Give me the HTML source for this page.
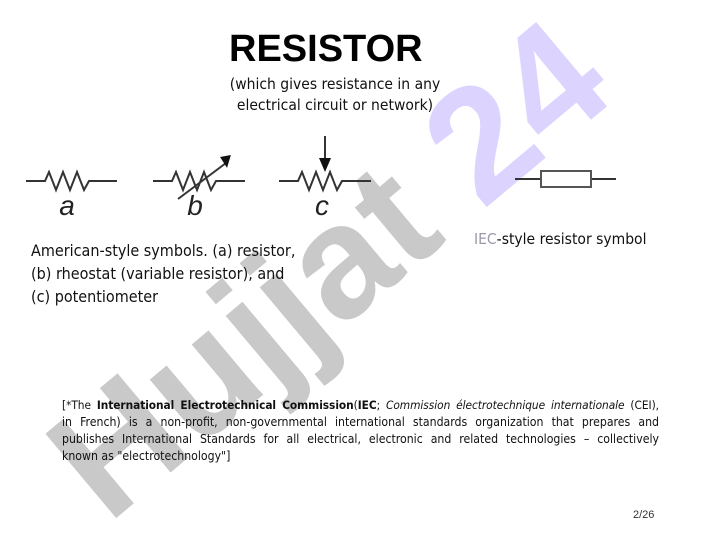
<!DOCTYPE html>
<html><head><meta charset="utf-8"><style>
html,body{margin:0;padding:0;background:#fff;}
body{width:720px;height:540px;position:relative;overflow:hidden;font-family:"Liberation Sans",sans-serif;}
.abs{position:absolute;}
.t{font-family:"DejaVu Sans Condensed","Liberation Sans",sans-serif;color:#111;}
.fn div{text-align:justify;text-align-last:justify;white-space:nowrap;height:17px;}
.fn div.last{text-align-last:left;}
</style></head><body>
<svg class="abs" style="left:0;top:0" width="720" height="540">
  <g transform="translate(108,525) rotate(-40)">
    <text x="0" y="0" font-family="Liberation Sans" font-weight="bold" font-size="160" fill="#c9c9c9">Hujjat <tspan fill="#dcd4ff">24</tspan></text>
  </g>
  <g stroke="#333" stroke-width="2" fill="none">
    <polyline points="26,181 45,181 49,172 56,190 63,172 70,190 77,172 84,190 89,181 117,181"/>
    <polyline points="153,181 172,181 176,172 183,190 190,172 197,190 204,172 211,190 216,181 245,181"/>
    <line x1="178" y1="199" x2="226" y2="163"/>
    <polyline points="279,181 298,181 302,172 309,190 316,172 323,190 330,172 337,190 342,181 371,181"/>
    <line x1="325" y1="136" x2="325" y2="160"/>
    <line x1="515" y1="179" x2="541" y2="179"/>
    <line x1="591" y1="179" x2="616" y2="179"/>
    <rect x="541" y="171" width="50" height="16" stroke="#555"/>
  </g>
  <polygon points="221,156 232,156 226,168" fill="#111" transform="rotate(-10 226 162)"/>
  <polygon points="319,158 331,158 325,172" fill="#111"/>
  <g font-family="Liberation Sans" font-style="italic" font-size="28" fill="#222" text-anchor="middle">
    <text x="67" y="215">a</text><text x="195" y="215">b</text><text x="322" y="215">c</text>
  </g>
</svg>
<div class="abs" style="left:229px;top:28px;font-size:38px;font-weight:bold;">RESISTOR</div>
<div class="abs t" style="left:195px;top:74px;width:280px;text-align:center;font-size:15.5px;line-height:21px;">(which gives resistance in any<br>electrical circuit or network)</div>
<div class="abs t" style="left:474px;top:230px;font-size:15.5px;"><span style="color:#99a;">IEC</span>-style resistor symbol</div>
<div class="abs t" style="left:31px;top:239px;font-size:16px;line-height:23px;">American-style symbols. (a) resistor,<br>(b) rheostat (variable resistor), and<br>(c) potentiometer</div>
<div class="abs t fn" style="left:62px;top:397px;width:597px;font-size:12.2px;line-height:17px;">
<div style="font-size:11.8px;letter-spacing:-0.05px;">[*The <b>International Electrotechnical Commission</b>(<b>IEC</b>; <i>Commission électrotechnique internationale</i> (CEI),</div>
<div>in French) is a non-profit, non-governmental international standards organization that prepares and</div>
<div>publishes International Standards for all electrical, electronic and related technologies – collectively</div>
<div class="last">known as "electrotechnology"]</div>
</div>
<div class="abs" style="left:633px;top:509px;font-size:11px;color:#333;">2/26</div>
</body></html>
